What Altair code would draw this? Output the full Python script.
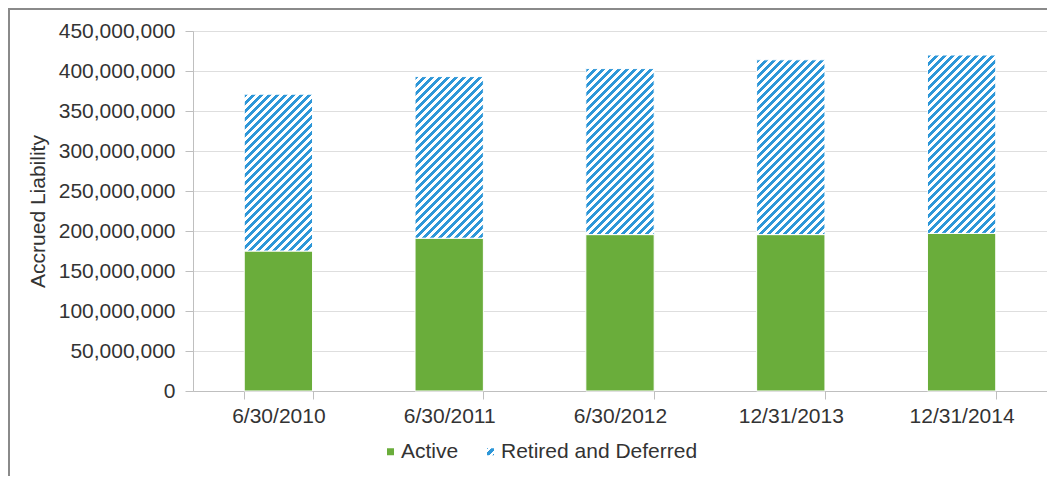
import altair as alt

# ---------------- data ----------------
dates = ["6/30/2010", "6/30/2011", "6/30/2012", "12/31/2013", "12/31/2014"]
active = [175_000_000, 191_000_000, 195_500_000, 195_500_000, 197_000_000]
total = [371_000_000, 393_000_000, 403_000_000, 414_000_000, 420_000_000]
series_names = ["Active", "Retired and Deferred"]
y_ticks = [0, 50_000_000, 100_000_000, 150_000_000, 200_000_000,
           250_000_000, 300_000_000, 350_000_000, 400_000_000, 450_000_000]

# ---------------- styling ----------------
GREEN = "#6aad3b"
BLUE = "#2e97d8"
TEXT = "#333333"
FONT = "Liberation Sans"
FS = 21

PLOT_W, PLOT_H = 854, 360
Y_MAX = 450_000_000
PAD_IN, PAD_OUT = 0.6, 0.3
step = PLOT_W / (len(dates) - PAD_IN + 2 * PAD_OUT)
bar_w = step * (1 - PAD_IN)


def hatch(h_px, w_px, period=8.0, frac=0.45):
    """Diagonal '/' hatching as a hard-stop linear gradient (bounding-box units)."""
    denom = w_px ** 2 + h_px ** 2
    pt = period * w_px / denom
    tmax = min(1.0, (w_px + h_px) * w_px / denom + pt)
    stops = []
    k = 0
    while k * pt <= tmax:
        s = k * pt
        b = min(1.0, s + frac * pt)
        e = min(1.0, s + pt)
        stops += [
            {"offset": round(s, 5), "color": BLUE},
            {"offset": round(b, 5), "color": BLUE},
            {"offset": round(b, 5), "color": "white"},
            {"offset": round(e, 5), "color": "white"},
        ]
        k += 1
    return {"gradient": "linear", "x1": 0, "y1": 0, "x2": 1,
            "y2": round(h_px / w_px, 5), "stops": stops}


rows = []
for d, a, t in zip(dates, active, total):
    rows.append({"date": d, "series": series_names[0], "lo": 0, "hi": a, "paint": GREEN})
    h = (t - a) / Y_MAX * PLOT_H
    rows.append({"date": d, "series": series_names[1], "lo": a, "hi": t,
                 "paint": hatch(h, bar_w)})

legend_stops = [(0, BLUE), (0.1, BLUE), (0.1, "white"), (0.32, "white"), (0.32, BLUE),
                (0.68, BLUE), (0.68, "white"), (0.9, "white"), (0.9, BLUE), (1, BLUE)]
legend_grad = "{gradient:'linear',x1:0,y1:0,x2:1,y2:1,stops:[" + ",".join(
    "{offset:%s,color:'%s'}" % (o, c) for o, c in legend_stops) + "]}"

# ---------------- chart ----------------
frame = alt.Chart(alt.Data(values=[{"f": 1}])).mark_rect(
    filled=False, stroke="#8a8a8a", strokeWidth=2
).encode(
    x=alt.value(-184), x2=alt.value(PLOT_W + 200),
    y=alt.value(-22), y2=alt.value(PLOT_H + 300),
)

bars = alt.Chart(alt.Data(values=rows)).mark_bar(stroke="white", strokeWidth=1).encode(
    x=alt.X("date:N", sort=dates,
            scale=alt.Scale(paddingInner=PAD_IN, paddingOuter=PAD_OUT),
            axis=alt.Axis(title=None, labelAngle=0, tickBand="extent", grid=False,
                          domainColor="#bfbfbf", tickColor="#bfbfbf", tickSize=8,
                          labelPadding=6, labelFontSize=FS, labelColor=TEXT,
                          labelFont=FONT)),
    y=alt.Y("lo:Q", scale=alt.Scale(domain=[0, Y_MAX], nice=False),
            axis=alt.Axis(values=y_ticks, format=",.0f", title="Accrued Liability",
                          grid=True, gridColor="#dedede", domainColor="#bfbfbf",
                          tickColor="#bfbfbf", tickSize=8, labelPadding=10,
                          labelFontSize=FS, labelColor=TEXT, labelFont=FONT,
                          titleFontSize=FS, titleFontWeight="normal",
                          titleColor=TEXT, titleFont=FONT, titlePadding=10)),
    y2="hi:Q",
    fill=alt.Fill("paint:N", scale=None),
)

legend_layer = alt.Chart(alt.Data(values=[{"series": s} for s in series_names])).mark_bar().encode(
    color=alt.Color("series:N",
                    scale=alt.Scale(domain=series_names,
                                    range=[GREEN, {"expr": legend_grad}]),
                    legend=alt.Legend(title=None, orient="none", legendX=187, legendY=410,
                                      direction="horizontal", symbolType="square",
                                      symbolSize=49, symbolStrokeWidth=0,
                                      labelFontSize=FS, labelColor=TEXT, labelFont=FONT,
                                      labelOffset=0, labelLimit=0, columnPadding=21)),
).transform_filter("false")

chart = alt.layer(frame, bars, legend_layer).properties(
    width=PLOT_W, height=PLOT_H,
    autosize=alt.AutoSizeParams(type="none"),
    padding={"left": 185, "top": 23, "right": 0, "bottom": 85},
).configure_view(stroke=None).configure(font=FONT)

chart.save("out.html", embed_options={"renderer": "svg", "actions": False})
